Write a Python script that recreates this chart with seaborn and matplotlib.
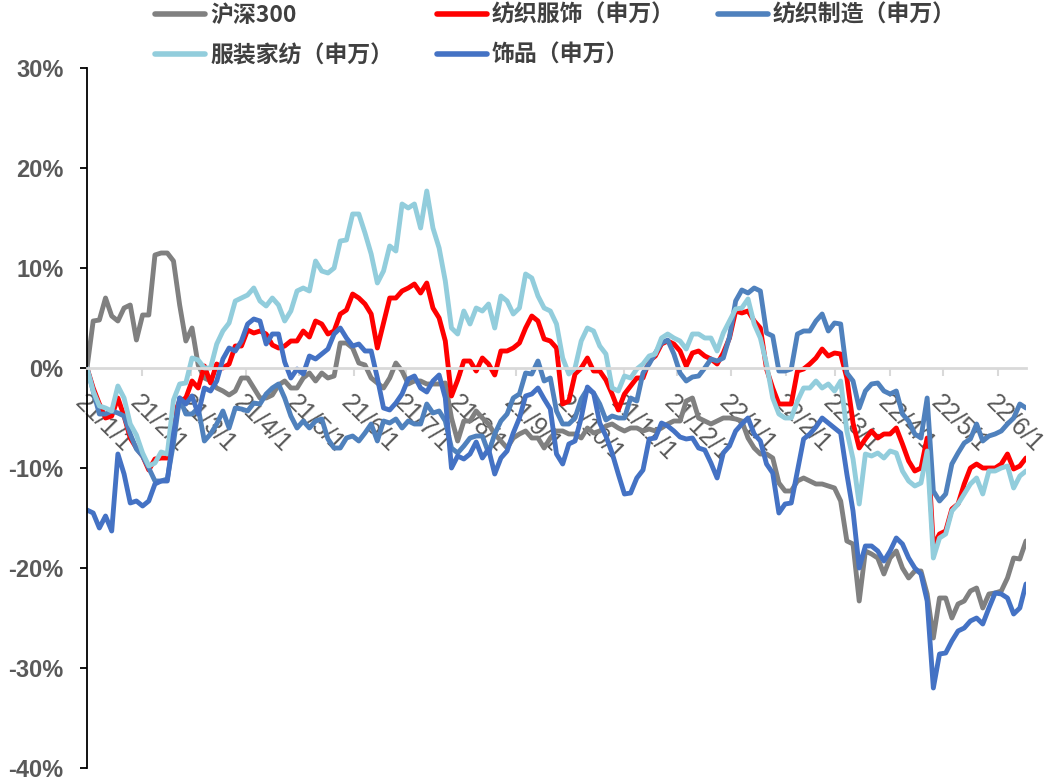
import numpy as np
import pandas as pd
import matplotlib
matplotlib.use("Agg")
import matplotlib.pyplot as plt
from matplotlib.lines import Line2D
import seaborn as sns

# Observation dates: every 3.5 days from 2021-01-01 to 2022-06-17
dates = pd.date_range("2021-01-01", periods=153, freq="84h")

series_names = ["沪深300", "纺织服饰（申万）", "纺织制造（申万）", "服装家纺（申万）", "饰品（申万）"]
series_colors = ["#808080", "#FF0000", "#4F81BD", "#92CDDC", "#4472C4"]

# cumulative return since 2021-01-01, %
hs300 = [
    0, 4.7, 4.8, 7.0, 5.2, 4.7, 6.0, 6.3, 2.8, 5.3,
    5.3, 11.3, 11.5, 11.5, 10.7, 6.3, 2.7, 4.0, 0.3, -1.0,
    -1.3, -2.0, -2.3, -2.7, -2.3, -1.0, -1.0, -2.0, -3.0, -3.0,
    -2.7, -1.7, -1.3, -2.0, -2.0, -1.0, -0.5, -1.3, -0.5, -1.0,
    -0.8, 2.5, 2.5, 2.0, 0.5, 0.3, -1.0, -1.5, -2.0, -1.0,
    0.5, -0.3, -1.6, -1.3, -1.3, -1.6, -1.6, -1.6, -1.5, -5.0,
    -7.3, -5.3, -5.3, -4.3, -5.0, -5.6, -6.6, -7.3, -8.0, -7.0,
    -6.6, -6.3, -7.0, -7.0, -8.0, -7.0, -6.3, -6.3, -6.6, -6.6,
    -7.0, -6.0, -6.5, -6.3, -5.8, -5.6, -6.0, -6.3, -6.0, -6.0,
    -6.3, -6.1, -6.3, -6.0, -5.6, -5.3, -5.3, -3.3, -3.0, -5.0,
    -5.3, -5.6, -5.3, -5.0, -5.0, -5.1, -5.3, -7.0, -8.0, -8.6,
    -8.6, -9.0, -11.5, -12.3, -12.3, -11.3, -11.0, -11.3, -11.6, -11.6,
    -11.8, -12.0, -13.3, -17.3, -17.6, -23.3, -18.3, -18.6, -19.0, -20.6,
    -19.0, -18.3, -20.0, -21.0, -20.3, -20.3, -22.6, -27.0, -23.0, -23.0,
    -25.0, -23.6, -23.3, -22.3, -22.0, -24.0, -22.6, -22.5, -22.3, -21.0,
    -19.0, -19.1, -17.3,
]
textile_apparel = [
    0, -2.0, -3.6, -5.0, -4.8, -3.0, -4.8, -7.0, -8.0, -8.8,
    -10.2, -9.1, -9.0, -9.0, -4.7, -3.3, -3.0, -1.3, -2.0, 0.2,
    -1.5, 0.4, 0.0, 0.4, 2.2, 2.2, 3.8, 3.5, 3.7, 3.4,
    2.3, 2.0, 2.2, 2.7, 2.7, 3.7, 3.1, 4.7, 4.4, 3.4,
    3.7, 5.4, 5.8, 7.4, 7.0, 6.4, 5.4, 2.0, 4.5, 7.0,
    7.0, 7.7, 8.0, 8.4, 7.5, 8.5, 6.0, 5.0, 2.7, -2.8,
    -1.2, 0.7, 0.7, -0.3, 1.0, 0.4, -0.7, 1.7, 1.7, 2.0,
    2.5, 4.0, 5.2, 4.7, 2.9, 2.7, 2.0, -3.6, -3.3, -0.6,
    0.0, 1.0, -0.3, -0.3, -1.2, -2.6, -4.2, -2.6, -1.8, -1.0,
    -1.0, 0.7, 1.2, 2.4, 2.7, 2.4, 1.7, 0.2, 1.5, 1.7,
    1.2, 0.9, 0.4, 1.5, 3.0, 5.7, 5.5, 5.7, 4.7, 4.0,
    -0.1, -2.0, -3.6, -3.6, -3.6, -0.3, -0.1, 0.4, 1.0, 1.9,
    1.2, 1.5, 1.4, -1.0, -5.5, -8.0, -7.1, -6.3, -7.0, -6.6,
    -6.6, -6.0, -7.6, -9.3, -10.3, -10.0, -7.0, -17.8, -16.6, -16.3,
    -14.1, -13.6, -11.6, -10.0, -9.6, -10.0, -10.0, -10.0, -9.6, -8.6,
    -10.1, -9.8, -9.0,
]
textile_mfg = [
    0, -2.3, -4.6, -4.6, -4.3, -4.5, -4.8, -6.6, -8.1, -8.8,
    -10.0, -11.3, -11.3, -11.1, -7.5, -3.0, -4.6, -4.6, -4.0, -7.3,
    -6.6, -5.6, -4.3, -6.0, -4.0, -4.1, -4.3, -3.5, -3.6, -2.6,
    -2.0, -1.6, -3.0, -4.8, -6.0, -5.3, -6.0, -5.3, -5.1, -7.1,
    -8.0, -8.0, -7.0, -6.8, -7.3, -6.5, -5.6, -7.3, -5.3, -5.5,
    -5.1, -6.0, -5.3, -5.6, -5.6, -3.6, -4.5, -4.3, -5.3, -8.0,
    -8.5, -7.8, -7.0, -6.8, -6.8, -8.5, -6.6, -5.3, -4.6, -3.0,
    -2.6, -0.5, -0.6, 0.7, -1.3, -1.0, -4.3, -5.6, -5.6, -5.0,
    -3.1, -2.1, -2.5, -3.6, -5.2, -4.8, -5.0, -5.0, -3.0, -3.3,
    -0.5, 0.4, 1.5, 2.5, 2.8, 1.4, -0.5, -1.3, -0.9, -0.8,
    0.0, 0.9, 0.7, 1.0, 3.1, 6.7, 7.8, 7.5, 8.0, 7.7,
    3.5, 3.2, -0.3, -0.3, -0.1, 3.4, 3.7, 3.7, 4.7, 5.4,
    3.7, 4.5, 4.4, -0.5, -1.3, -4.0, -2.3, -1.6, -1.5, -2.3,
    -2.6, -2.3, -4.6, -5.3, -6.6, -7.0, -3.0, -12.3, -13.3, -12.6,
    -9.6, -8.5, -7.5, -7.1, -5.6, -7.3, -6.8, -6.6, -6.3, -5.6,
    -5.0, -3.6, -4.0,
]
apparel_home = [
    0, -2.3, -3.8, -4.0, -4.3, -1.8, -3.0, -5.6, -6.7, -8.5,
    -9.8, -9.5, -8.4, -8.6, -3.2, -1.6, -1.5, 1.0, 0.8, 0.0,
    0.0, 2.4, 3.7, 4.5, 6.7, 7.0, 7.3, 8.0, 6.7, 6.2,
    7.0, 6.3, 4.7, 5.7, 7.7, 8.0, 7.7, 10.7, 9.7, 9.5,
    10.0, 12.7, 12.8, 15.4, 15.4, 13.5, 11.4, 8.5, 9.7, 12.2,
    11.7, 16.4, 16.0, 16.4, 14.0, 17.7, 14.0, 12.0, 8.7, 4.0,
    3.4, 5.7, 4.4, 6.0, 5.7, 6.4, 4.0, 7.2, 6.7, 5.4,
    6.0, 9.4, 9.0, 7.2, 6.0, 5.7, 4.4, 1.0, -0.6, 0.0,
    2.7, 4.0, 3.7, 2.2, 1.4, -2.0, -2.3, -0.8, -1.0, -0.1,
    0.4, 1.2, 1.4, 3.0, 3.4, 3.0, 2.7, 1.9, 3.4, 3.4,
    3.0, 3.0, 1.7, 3.5, 4.7, 5.9, 6.0, 6.9, 4.4, 3.0,
    0.4, -3.0, -4.6, -5.0, -5.0, -3.3, -2.0, -2.0, -1.3, -2.0,
    -1.6, -2.3, -1.3, -6.3, -9.1, -13.6, -8.6, -8.8, -8.5, -9.0,
    -8.3, -8.5, -10.3, -11.3, -11.8, -11.5, -8.3, -19.0, -17.0, -16.6,
    -14.3, -13.6, -12.6, -11.6, -11.0, -12.6, -10.3, -10.3, -10.0, -9.8,
    -12.0, -10.8, -10.3,
]
accessories = [
    -14.2, -14.5, -16.0, -14.8, -16.3, -8.6, -10.6, -13.5, -13.3, -13.8,
    -13.3, -11.6, -11.3, -11.3, -6.6, -3.0, -3.6, -2.8, -4.6, -2.0,
    -2.3, -1.3, 0.9, 2.0, 1.7, 2.7, 4.4, 4.9, 4.7, 2.4,
    3.4, 3.4, 0.6, -1.0, -0.1, -0.6, 1.2, 0.9, 1.4, 1.9,
    3.4, 4.0, 3.0, 2.2, 2.4, 1.7, 1.7, -1.0, -4.0, -4.2,
    -3.5, -2.6, -1.1, -0.8, -2.0, -2.4, -1.3, -0.7, -3.0, -10.0,
    -8.8, -9.1, -8.6, -7.4, -9.0, -8.1, -10.6, -9.0, -8.3, -6.5,
    -5.0, -2.8, -2.6, -2.0, -3.1, -4.1, -8.6, -9.6, -7.6, -7.3,
    -5.0, -1.9, -2.5, -5.5, -6.8, -8.5, -10.6, -12.6, -12.5, -11.0,
    -10.2, -7.1, -7.0, -5.5, -5.8, -6.3, -6.9, -7.1, -7.0, -8.0,
    -8.2, -9.5, -11.0, -8.5, -7.8, -6.3, -5.6, -5.0, -6.6, -7.3,
    -9.6, -10.5, -14.5, -13.6, -13.5, -10.3, -7.1, -6.6, -5.9, -5.0,
    -5.5, -6.0, -6.5, -10.6, -14.3, -20.0, -17.8, -17.8, -18.3, -19.3,
    -18.3, -17.0, -17.6, -19.0, -20.0, -20.6, -23.3, -32.0, -28.6, -28.5,
    -27.3, -26.3, -26.0, -25.3, -25.0, -25.6, -24.0, -22.5, -22.6, -23.0,
    -24.6, -24.0, -21.6,
]

tick_dates = pd.date_range("2021-01-01", "2022-06-01", freq="MS")
tick_labels = ["21/1/1", "21/2/1", "21/3/1", "21/4/1", "21/5/1", "21/6/1",
               "21/7/1", "21/8/1", "21/9/1", "21/10/1", "21/11/1", "21/12/1",
               "22/1/1", "22/2/1", "22/3/1", "22/4/1", "22/5/1", "22/6/1"]
y_ticks = [-40, -30, -20, -10, 0, 10, 20, 30]
y_labels = ["-40%", "-30%", "-20%", "-10%", "0%", "10%", "20%", "30%"]

all_values = [hs300, textile_apparel, textile_mfg, apparel_home, accessories]
df = pd.DataFrame({
    "date": np.tile(dates.values, len(series_names)),
    "value": np.concatenate([np.asarray(v, dtype=float) for v in all_values]),
    "series": np.repeat(series_names, len(dates)),
})

sns.set_theme(style="white")
plt.rcParams["font.family"] = ["Liberation Sans", "Noto Sans CJK SC", "DejaVu Sans"]
plt.rcParams["axes.unicode_minus"] = False

fig = plt.figure(figsize=(10.55, 7.8), dpi=100)
ax = fig.add_axes([87 / 1055, 12 / 780, 939 / 1055, 700 / 780])

sns.lineplot(data=df, x="date", y="value", hue="series", hue_order=series_names,
             palette=series_colors, linewidth=3.5, estimator=None, sort=False,
             legend=False, ax=ax)

ax.set_xlim(dates[0], dates[-1])
ax.set_ylim(-40, 30)
ax.set_xlabel("")
ax.set_ylabel("")

# y axis: black spine with outward ticks and bold percent labels
ax.set_yticks(y_ticks)
ax.set_yticklabels(y_labels, fontweight="bold")
ax.tick_params(axis="y", direction="out", length=5, width=1.3, color="black",
               pad=12, labelsize=17, labelcolor="#595959", left=True)
ax.spines["left"].set_color("black")
ax.spines["left"].set_linewidth(1.3)

# x axis sits on the zero line
ax.spines["bottom"].set_position(("data", 0))
ax.spines["bottom"].set_color("#D9D9D9")
ax.spines["bottom"].set_linewidth(2)
ax.spines["top"].set_visible(False)
ax.spines["right"].set_visible(False)
ax.set_xticks(tick_dates)
ax.set_xticklabels(tick_labels, rotation=-45, ha="left", va="top",
                   rotation_mode="anchor")
ax.tick_params(axis="x", direction="out", length=6, width=1.5, color="#D9D9D9",
               pad=10, labelsize=18, labelcolor="#595959", bottom=True)
ax.grid(False)

handles = [Line2D([0], [0], color=c, lw=4.0) for c in series_colors]
order = [0, 3, 1, 4, 2]
fig.legend([handles[i] for i in order], [series_names[i] for i in order],
           ncol=3, loc="upper left", bbox_to_anchor=(155 / 1055, 1 - 4 / 780),
           frameon=False, prop={"family": ["Noto Sans CJK SC"], "weight": "bold", "size": 16.5},
           handlelength=2.18, handletextpad=0.22, columnspacing=1.9,
           labelspacing=0.75, borderpad=0, borderaxespad=0, labelcolor="#404040")

fig.savefig("out.png", dpi=100, facecolor="white")
